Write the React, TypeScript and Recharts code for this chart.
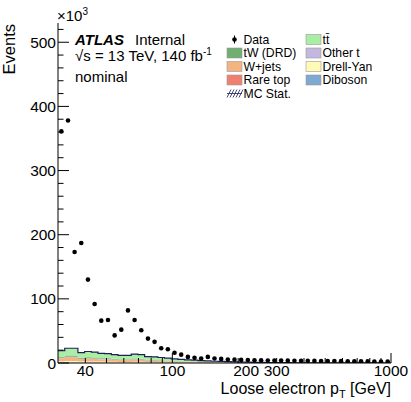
import React from 'react';
import { ComposedChart, Area, Scatter, XAxis, YAxis } from 'recharts';

// log-uniform binning, 50 bins between 30 and 1000 GeV
const binEdges = [
  30.0, 32.2, 34.5, 37.0, 39.7, 42.6, 45.7, 49.0, 52.6, 56.4, 60.5, 64.9, 69.6, 74.7, 80.1, 85.9, 92.1,
  98.8, 106.0, 113.7, 122.0, 130.8, 140.3, 150.5, 161.5, 173.2, 185.8, 199.3, 213.8, 229.3, 246.0, 263.8,
  283.0, 303.5, 325.6, 349.3, 374.6, 401.8, 431.0, 462.4, 495.9, 532.0, 570.6, 612.1, 656.5, 704.2, 755.4,
  810.3, 869.1, 932.3, 1000,
];

// events per bin, x10^3
const dataEvents = [
  361, 378, 173, 187, 130, 92, 66, 67, 43, 52, 82, 67, 51, 38, 33, 23, 21.5, 16, 13, 9.5, 8, 7, 9.5, 7,
  6.4, 5.5, 5.2, 4.8, 4.6, 4.4, 4.2, 4.0, 3.9, 3.8, 3.7, 3.6, 3.5, 3.4, 3.3, 3.2, 3.1, 3.0, 2.9, 2.8, 2.7,
  2.6, 2.5, 2.4, 2.3, 2.2,
];

const ttbar = [
  9.5, 11.5, 11.5, 8, 9, 8.5, 7.5, 7.3, 6.5, 6, 6, 7, 6.5, 5, 4.8, 4.3, 3.8, 3.3, 2.8, 2.5, 2.2, 1.9, 1.6,
  1.4, 1.2, 1.0, 0.85, 0.75, 0.65, 0.55, 0.48, 0.4, 0.35, 0.3, 0.25, 0.21, 0.18, 0.15, 0.13, 0.11, 0.1,
  0.08, 0.07, 0.06, 0.05, 0.04, 0.03, 0.025, 0.02, 0.015,
];
const tW = [
  1.5, 1.8, 1.8, 1.3, 1.4, 1.4, 1.2, 1.2, 1.0, 1.0, 1.0, 1.1, 1.0, 0.8, 0.8, 0.7, 0.6, 0.5, 0.45, 0.4, 0.35,
  0.3, 0.26, 0.22, 0.19, 0.16, 0.14, 0.12, 0.1, 0.09, 0.08, 0.06, 0.06, 0.05, 0.04, 0.03, 0.03, 0.02, 0.02,
  0.02, 0.015, 0.013, 0.01, 0.009, 0.007, 0.006, 0.005, 0.004, 0.003, 0.002,
];
const wjets = [
  4.2, 5.1, 5.1, 3.5, 4, 3.7, 3.3, 3.2, 2.9, 2.6, 2.6, 3.1, 2.9, 2.2, 2.1, 1.9, 1.6, 1.4, 1.2, 1.1, 0.95,
  0.8, 0.7, 0.6, 0.53, 0.44, 0.37, 0.33, 0.29, 0.24, 0.21, 0.18, 0.15, 0.13, 0.11, 0.09, 0.08, 0.07, 0.06,
  0.05, 0.04, 0.035, 0.03, 0.024, 0.02, 0.018, 0.013, 0.011, 0.009, 0.007,
];
const rareTop = [
  0.6, 0.7, 0.7, 0.5, 0.5, 0.5, 0.45, 0.45, 0.4, 0.35, 0.35, 0.4, 0.4, 0.3, 0.3, 0.25, 0.22, 0.2, 0.17,
  0.15, 0.13, 0.11, 0.1, 0.08, 0.07, 0.06, 0.05, 0.05, 0.04, 0.03, 0.03, 0.02, 0.02, 0.02, 0.015, 0.013,
  0.011, 0.009, 0.008, 0.007, 0.006, 0.005, 0.004, 0.003, 0.003, 0.002, 0.002, 0.0015, 0.001, 0.001,
];
const otherT = [
  0.6, 0.7, 0.7, 0.5, 0.5, 0.5, 0.45, 0.45, 0.4, 0.35, 0.35, 0.4, 0.4, 0.3, 0.3, 0.25, 0.22, 0.2, 0.17,
  0.15, 0.13, 0.11, 0.1, 0.08, 0.07, 0.06, 0.05, 0.05, 0.04, 0.03, 0.03, 0.02, 0.02, 0.02, 0.015, 0.013,
  0.011, 0.009, 0.008, 0.007, 0.006, 0.005, 0.004, 0.003, 0.003, 0.002, 0.002, 0.0015, 0.001, 0.001,
];
const drellYan = [
  2.1, 2.5, 2.5, 1.8, 2, 1.9, 1.7, 1.6, 1.4, 1.3, 1.3, 1.5, 1.4, 1.1, 1.0, 0.9, 0.8, 0.7, 0.6, 0.55, 0.47,
  0.4, 0.35, 0.3, 0.26, 0.22, 0.19, 0.16, 0.14, 0.12, 0.1, 0.09, 0.08, 0.07, 0.06, 0.05, 0.04, 0.03, 0.03,
  0.02, 0.02, 0.018, 0.014, 0.012, 0.01, 0.009, 0.007, 0.006, 0.005, 0.003,
];
const diboson = [
  0.6, 0.7, 0.7, 0.5, 0.5, 0.5, 0.45, 0.45, 0.4, 0.35, 0.35, 0.4, 0.4, 0.3, 0.3, 0.25, 0.22, 0.2, 0.17,
  0.15, 0.13, 0.11, 0.1, 0.08, 0.07, 0.06, 0.05, 0.05, 0.04, 0.03, 0.03, 0.02, 0.02, 0.02, 0.015, 0.013,
  0.011, 0.009, 0.008, 0.007, 0.006, 0.005, 0.004, 0.003, 0.003, 0.002, 0.002, 0.0015, 0.001, 0.001,
];

const xTicks = [40, 50, 60, 70, 80, 90, 100, 200, 300, 400, 500, 600, 700, 800, 900, 1000];
const xTickLabels = [40, 100, 200, 300, 1000];
const yTicks = [0, 20, 40, 60, 80, 100, 120, 140, 160, 180, 200, 220, 240, 260, 280, 300, 320, 340, 360, 380, 400, 420, 440, 460, 480, 500, 520];
const yTickLabels = [0, 100, 200, 300, 400, 500];

const FONT = '"Liberation Sans", Arial, Helvetica, sans-serif';
const NAVY = '#1f1f5a';

// stack order bottom -> top
const stack = [
  { key: 'diboson', values: diboson, color: '#7ea9d0' },
  { key: 'drellYan', values: drellYan, color: '#fffbb6' },
  { key: 'wjets', values: wjets, color: '#f3b481' },
  { key: 'rareTop', values: rareTop, color: '#ef8070' },
  { key: 'otherT', values: otherT, color: '#c3b8de' },
  { key: 'tW', values: tW, color: '#72ad72' },
  { key: 'ttbar', values: ttbar, color: '#a9eea3' },
];

const stackRows = binEdges.map((edge, i) => {
  const k = Math.min(i, dataEvents.length - 1);
  const row: Record<string, number> = { x: edge };
  stack.forEach((s) => (row[s.key] = s.values[k]));
  return row;
});

const dataRows = dataEvents.map((v, i) => ({ x: Math.sqrt(binEdges[i] * binEdges[i + 1]), y: v }));

const labelShift: Record<number, number> = { 200: 8 };

const BottomTick = (props: any) => {
  const { x, y, payload } = props;
  const v = payload.value;
  const len = v === 100 || v === 1000 ? 10 : 5;
  return (
    <g>
      <line x1={x} x2={x} y1={y} y2={y - len} stroke="#000" />
      {xTickLabels.includes(v) && (
        <text x={x + (labelShift[v] || 0)} y={y + 12.5} textAnchor="middle" fontSize={15.5} fontFamily={FONT} fill="#000">
          {v}
        </text>
      )}
    </g>
  );
};

const TopTick = (props: any) => {
  const { x, y, payload } = props;
  const v = payload.value;
  const len = v === 100 || v === 1000 ? 10 : 5;
  return <line x1={x} x2={x} y1={y} y2={y + len} stroke="#000" />;
};

const LeftTick = (props: any) => {
  const { x, y, payload } = props;
  const v = payload.value;
  const major = v % 100 === 0;
  return (
    <g>
      <line x1={x} x2={x + (major ? 11 : 5.5)} y1={y} y2={y} stroke="#000" />
      {yTickLabels.includes(v) && (
        <text x={x - 2} y={y} dy="0.36em" textAnchor="end" fontSize={15.5} fontFamily={FONT} fill="#000">
          {v}
        </text>
      )}
    </g>
  );
};

const RightTick = (props: any) => {
  const { x, y, payload } = props;
  const major = payload.value % 100 === 0;
  return <line x1={x} x2={x - (major ? 11 : 5.5)} y1={y} y2={y} stroke="#000" />;
};

const legendLeft = [
  { label: 'Data', type: 'data' },
  { label: 'tW (DRD)', color: '#72ad72' },
  { label: 'W+jets', color: '#f3b481' },
  { label: 'Rare top', color: '#ef8070' },
  { label: 'MC Stat.', type: 'hatch' },
];
const legendRight = [
  { label: 'tt\u0304', color: '#a9eea3' },
  { label: 'Other t', color: '#c3b8de' },
  { label: 'Drell-Yan', color: '#fffbb6' },
  { label: 'Diboson', color: '#7ea9d0' },
];
const rowY = [39.5, 53, 66.5, 80, 93.5];

const LegendEntry = ({ item, x, y }: { item: any; x: number; y: number }) => {
  let marker;
  if (item.type === 'data') {
    marker = (
      <g>
        <line x1={x + 7.5} x2={x + 7.5} y1={y - 4} y2={y + 4} stroke="#000" />
        <circle cx={x + 7.5} cy={y} r={2.3} fill="#000" />
      </g>
    );
  } else if (item.type === 'hatch') {
    marker = (
      <g stroke={NAVY} strokeWidth={0.8}>
        {[0, 3, 6, 9, 12].map((d) => (
          <line key={d} x1={x + d} y1={y + 4} x2={x + d + 4} y2={y - 4} />
        ))}
        <line x1={x} x2={x + 15} y1={y} y2={y} />
      </g>
    );
  } else {
    marker = <rect x={x} y={y - 5} width={15} height={10} fill={item.color} stroke="#999" strokeWidth={0.6} />;
  }
  return (
    <g>
      {marker}
      <text x={x + 16.5} y={y + 4.3} fontSize={12.2} fontFamily={FONT} fill="#000">
        {item.label}
      </text>
    </g>
  );
};

const App: React.FC = () => {
  return (
    <div style={{ position: 'absolute', left: 0, top: 0, width: 411, height: 402, background: '#fff' }}>
      <ComposedChart width={411} height={402} data={stackRows} margin={{ top: 23, right: 20, bottom: 0, left: 0 }}>
        <XAxis
          dataKey="x"
          type="number"
          scale="log"
          domain={[30, 1000]}
          allowDataOverflow
          ticks={xTicks}
          interval={0}
          tickSize={0}
          tickMargin={0}
          tickLine={false}
          tick={BottomTick}
          axisLine={{ stroke: '#000' }}
          height={39}
        />
        <XAxis
          xAxisId="top"
          orientation="top"
          dataKey="x"
          type="number"
          scale="log"
          domain={[30, 1000]}
          allowDataOverflow
          ticks={xTicks}
          interval={0}
          tickSize={0}
          tickMargin={0}
          tickLine={false}
          tick={TopTick}
          axisLine={{ stroke: '#000' }}
          height={0}
        />
        <YAxis
          type="number"
          domain={[0, 530]}
          allowDataOverflow
          ticks={yTicks}
          interval={0}
          tickSize={0}
          tickMargin={0}
          tickLine={false}
          tick={LeftTick}
          axisLine={{ stroke: '#000' }}
          width={58}
        />
        <YAxis
          yAxisId="right"
          orientation="right"
          type="number"
          domain={[0, 530]}
          allowDataOverflow
          ticks={yTicks}
          interval={0}
          tickSize={0}
          tickMargin={0}
          tickLine={false}
          tick={RightTick}
          axisLine={{ stroke: '#000' }}
          width={0}
        />
        {stack.map((s) => (
          <Area
            key={s.key}
            dataKey={s.key}
            type="stepAfter"
            stackId="mc"
            fill={s.color}
            fillOpacity={1}
            stroke={s.key === 'ttbar' ? NAVY : 'none'}
            strokeWidth={1.2}
            isAnimationActive={false}
            dot={false}
            activeDot={false}
          />
        ))}
        <Scatter
          data={dataRows}
          dataKey="y"
          isAnimationActive={false}
          shape={(p: any) => <circle cx={p.cx} cy={p.cy} r={2.3} fill="#000" />}
        />
      </ComposedChart>
      <svg width={411} height={402} style={{ position: 'absolute', left: 0, top: 0, pointerEvents: 'none' }} fontFamily={FONT}>
        <text x={57} y={21} fontSize={15} fill="#000">
          ×10<tspan dy={-6} fontSize={10}>3</tspan>
        </text>
        <text transform="translate(15,24) rotate(-90)" textAnchor="end" fontSize={16.5} fill="#000">
          Events
        </text>
        <text x={391} y={394} textAnchor="end" fontSize={16} fill="#000">
          Loose electron p<tspan dy={3.5} fontSize={11}>T</tspan>
          <tspan dy={-3.5}> [GeV]</tspan>
        </text>
        <text x={75} y={45} fontSize={15} fontWeight="bold" fontStyle="italic" fill="#000">
          ATLAS
        </text>
        <text x={135} y={45} fontSize={15} fill="#000">
          Internal
        </text>
        <text x={75} y={61} fontSize={15} fill="#000">
          √s = 13 TeV, 140 fb<tspan dy={-6} fontSize={10}>-1</tspan>
        </text>
        <text x={75} y={82} fontSize={15} fill="#000">
          nominal
        </text>
        {legendLeft.map((item, i) => (
          <LegendEntry key={item.label} item={item} x={227} y={rowY[i]} />
        ))}
        {legendRight.map((item, i) => (
          <LegendEntry key={item.label} item={item} x={306} y={rowY[i]} />
        ))}
      </svg>
    </div>
  );
};

export default App;
